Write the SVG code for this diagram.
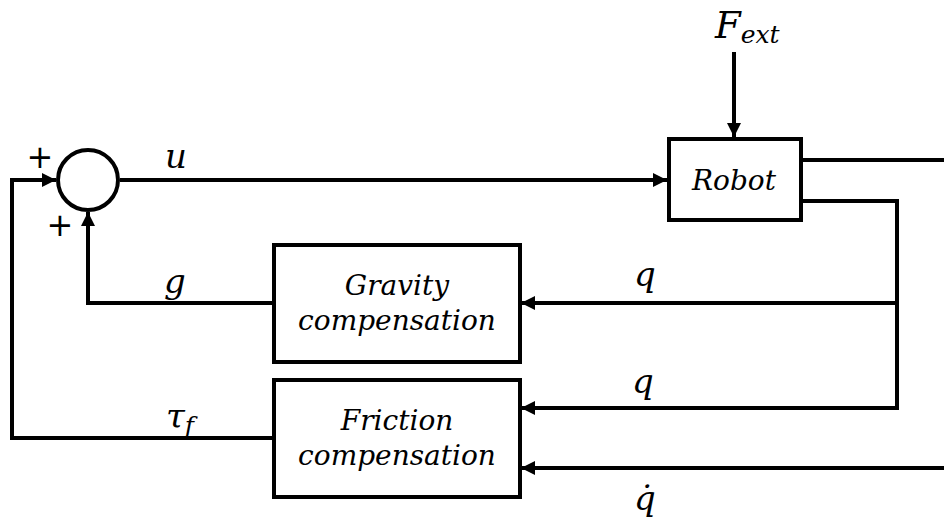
<svg xmlns="http://www.w3.org/2000/svg" width="944" height="522" viewBox="0 0 944 522">
<style>
.box{fill:#fff;stroke:#000;stroke-width:4}
.ln{fill:none;stroke:#000;stroke-width:4}
.t{font-family:"DejaVu Serif",serif;font-style:italic;font-size:28px;text-anchor:middle;fill:#000}
.m{font-family:"DejaVu Serif",serif;font-style:italic;font-size:34px;text-anchor:middle;fill:#000}
.s{font-family:"DejaVu Serif",serif;font-style:italic;font-size:25px;fill:#000}
.p{font-family:"DejaVu Sans",sans-serif;font-size:32px;text-anchor:middle;fill:#000}
</style>
<defs>
<marker id="ah" viewBox="0 0 10 10" refX="10" refY="5" markerWidth="3.5" markerHeight="3.5" markerUnits="strokeWidth" orient="auto">
<path d="M0,0 L10,5 L0,10 z" fill="#000"/>
</marker>
</defs>
<g id="connectors">
<path class="ln" d="M120,180 H667" marker-end="url(#ah)"/>
<path class="ln" d="M734,52 V137" marker-end="url(#ah)"/>
<path class="ln" d="M802,160 H944"/>
<path class="ln" d="M802,201 H897 V408 H521" marker-end="url(#ah)"/>
<path class="ln" d="M897,303 H521" marker-end="url(#ah)"/>
<path class="ln" d="M944,468 H521" marker-end="url(#ah)"/>
<path class="ln" d="M274,303 H88 V212" marker-end="url(#ah)"/>
<path class="ln" d="M274,438 H12 V180 H56" marker-end="url(#ah)"/>
</g>
<g id="sum">
<circle cx="88" cy="180" r="30" class="box"/>
<text class="p" x="40" y="168">+</text>
<text class="p" x="60" y="236">+</text>
</g>
<g id="robot">
<rect class="box" x="669" y="139" width="132" height="81"/>
<text class="t" x="734" y="190">Robot</text>
</g>
<g id="gravity">
<rect class="box" x="274" y="245" width="246" height="117"/>
<text class="t" x="397" y="295">Gravity</text>
<text class="t" x="397" y="330">compensation</text>
</g>
<g id="friction">
<rect class="box" x="274" y="380" width="246" height="117"/>
<text class="t" x="397" y="430">Friction</text>
<text class="t" x="397" y="465">compensation</text>
</g>
<g id="labels">
<text class="m" x="176" y="168">u</text>
<text class="m" x="715" y="38" style="font-size:37px;text-anchor:start">F<tspan class="s" dy="5">ext</tspan></text>
<text class="m" x="175" y="293">g</text>
<text class="m" x="645" y="286">q</text>
<text class="m" x="643" y="393">q</text>
<text class="m" x="645" y="510">q̇</text>
<text class="m" x="180" y="428">τ<tspan class="s" dy="6">f</tspan></text>
</g>
</svg>
